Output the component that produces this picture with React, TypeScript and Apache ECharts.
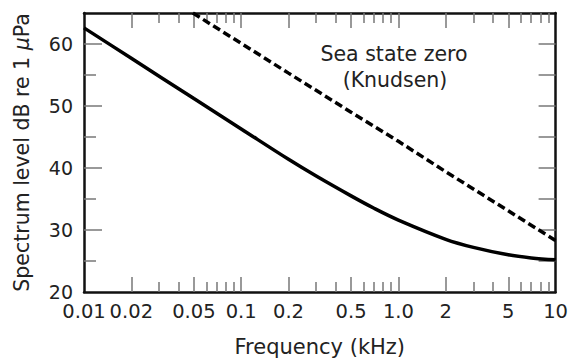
import React, { useEffect, useRef } from "react";
import * as echarts from "echarts";

// Frequency in kHz
const ambientFreq = [0.01, 0.02, 0.05, 0.1, 0.2, 0.3, 0.5, 0.7, 1, 2, 3, 5, 7, 10];
const ambientLevel = [62.6, 57.7, 51.2, 46.3, 41.4, 38.7, 35.5, 33.5, 31.6, 28.5, 27.2, 26.0, 25.5, 25.2];

const knudsenFreq = [0.0493, 0.1, 0.2, 0.5, 1, 2, 5, 10];
const knudsenLevel = [65, 60.1, 55.3, 49.0, 44.3, 39.4, 33.1, 28.3];

const xLabelValues = [0.01, 0.02, 0.05, 0.1, 0.2, 0.5, 1, 2, 5, 10];
const xLabelTexts = ["0.01", "0.02", "0.05", "0.1", "0.2", "0.5", "1.0", "2", "5", "10"];
const xMajorTicks = [0.02, 0.05, 0.1, 0.2, 0.5, 1, 2, 5];
const xMinorTicks = [
  0.03, 0.04, 0.06, 0.07, 0.08, 0.09,
  0.3, 0.4, 0.6, 0.7, 0.8, 0.9,
  3, 4, 6, 7, 8, 9,
];
const yLabelValues = [20, 30, 40, 50, 60];
const yMajorTicks = [30, 40, 50, 60];
const yMinorTicks = [25, 35, 45, 55];
const yAllTicks = [25, 30, 35, 40, 45, 50, 55, 60];

const annotation = ["Sea state zero", "(Knudsen)"];

const FONT = "DejaVu Sans";
const TEXT = "#222";
const TICK = "#777";

export default function App() {
  const ref = useRef<HTMLDivElement>(null);
  useEffect(() => {
    if (!ref.current) return;
    const chart = echarts.init(ref.current, null, { renderer: "svg" });
    const xBase = {
      type: "log" as const,
      logBase: 10,
      min: 0.01,
      max: 10,
      splitLine: { show: false },
      minorTick: { show: false },
    };
    const yBase = {
      type: "value" as const,
      min: 20,
      max: 65,
      interval: 5,
      splitLine: { show: false },
    };
    const axisLine = { show: true, lineStyle: { color: "#111", width: 2.5 } };
    const noLine = { show: false };
    const noLabel = { show: false };
    const fmtX = (v: number) => {
      let best = 0;
      let bd = Infinity;
      xLabelValues.forEach((x, i) => {
        const d = Math.abs(Math.log10(x) - Math.log10(v));
        if (d < bd) {
          bd = d;
          best = i;
        }
      });
      return xLabelTexts[best];
    };
    chart.setOption({
      animation: false,
      backgroundColor: "#fff",
      grid: { left: 84, right: 15, top: 13, bottom: 69, containLabel: false },
      xAxis: [
        {
          ...xBase,
          position: "bottom",
          axisLine,
          axisTick: {
            show: true,
            inside: true,
            length: 15,
            customValues: xMajorTicks,
            lineStyle: { color: TICK, width: 1.5 },
          },
          axisLabel: {
            show: true,
            customValues: xLabelValues,
            formatter: fmtX,
            fontFamily: FONT,
            fontSize: 19.5,
            lineHeight: 16,
            color: TEXT,
            margin: 11,
          },
          name: "Frequency (kHz)",
          nameLocation: "middle",
          nameGap: 44,
          nameTextStyle: { fontFamily: FONT, fontSize: 21, color: TEXT },
        },
        {
          ...xBase,
          position: "bottom",
          axisLine: noLine,
          axisTick: {
            show: true,
            inside: true,
            length: 10,
            customValues: xMinorTicks,
            lineStyle: { color: TICK, width: 1.5 },
          },
          axisLabel: noLabel,
        },
        {
          ...xBase,
          position: "top",
          axisLine,
          axisTick: {
            show: true,
            inside: true,
            length: 15,
            customValues: xMajorTicks,
            lineStyle: { color: TICK, width: 1.5 },
          },
          axisLabel: noLabel,
        },
        {
          ...xBase,
          position: "top",
          axisLine: noLine,
          axisTick: {
            show: true,
            inside: true,
            length: 10,
            customValues: xMinorTicks,
            lineStyle: { color: TICK, width: 1.5 },
          },
          axisLabel: noLabel,
        },
      ],
      yAxis: [
        {
          ...yBase,
          position: "left",
          axisLine,
          axisTick: {
            show: true,
            inside: true,
            length: 18,
            customValues: yMajorTicks,
            lineStyle: { color: TICK, width: 1.5 },
          },
          axisLabel: {
            show: true,
            customValues: yLabelValues,
            fontFamily: FONT,
            fontSize: 19,
            lineHeight: 14,
            color: TEXT,
            margin: 11,
          },
          name: "Spectrum level dB re 1 {i|μ}Pa",
          nameLocation: "middle",
          nameGap: 52,
          nameTextStyle: {
            fontFamily: FONT,
            fontSize: 20.5,
            color: TEXT,
            rich: { i: { fontFamily: FONT, fontSize: 20.5, color: TEXT, fontStyle: "italic" } },
          },
        },
        {
          ...yBase,
          position: "left",
          axisLine: noLine,
          axisTick: {
            show: true,
            inside: true,
            length: 12,
            customValues: yMinorTicks,
            lineStyle: { color: TICK, width: 1.5 },
          },
          axisLabel: noLabel,
        },
        {
          ...yBase,
          position: "right",
          axisLine,
          axisTick: {
            show: true,
            inside: true,
            length: 17,
            customValues: yAllTicks,
            lineStyle: { color: TICK, width: 1.5 },
          },
          axisLabel: noLabel,
        },
      ],
      graphic: [
        {
          type: "text",
          x: 394,
          y: 54,
          style: {
            text: annotation[0],
            fontFamily: FONT,
            fontSize: 20.5,
            fill: TEXT,
            textAlign: "center",
            textVerticalAlign: "middle",
          },
        },
        {
          type: "text",
          x: 395,
          y: 80,
          style: {
            text: annotation[1],
            fontFamily: FONT,
            fontSize: 20.5,
            fill: TEXT,
            textAlign: "center",
            textVerticalAlign: "middle",
          },
        },
      ],
      series: [
        {
          type: "line",
          xAxisIndex: 0,
          yAxisIndex: 0,
          data: ambientFreq.map((f, i) => [f, ambientLevel[i]]),
          showSymbol: false,
          symbol: "none",
          smooth: 0.35,
          clip: true,
          lineStyle: { color: "#000", width: 3.5 },
        },
        {
          type: "line",
          xAxisIndex: 0,
          yAxisIndex: 0,
          data: knudsenFreq.map((f, i) => [f, knudsenLevel[i]]),
          showSymbol: false,
          symbol: "none",
          clip: true,
          lineStyle: { color: "#000", width: 3.5, type: [8, 4] },
        },
      ],
    });
    return () => chart.dispose();
  }, []);
  return (
    <div
      ref={ref}
      style={{ position: "fixed", left: 0, top: 0, width: 571, height: 362, background: "#fff" }}
    />
  );
}
